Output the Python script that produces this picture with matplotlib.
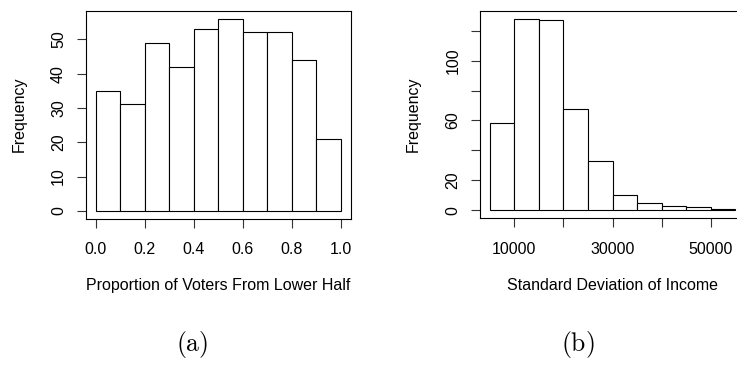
import matplotlib
matplotlib.use("Agg")
import matplotlib.pyplot as plt
import numpy as np

# panel (a): proportion of voters from lower half
prop_edges = [0.0, 0.1, 0.2, 0.3, 0.4, 0.5, 0.6, 0.7, 0.8, 0.9, 1.0]
prop_counts = [35, 31, 49, 42, 53, 56, 52, 52, 44, 21]
prop_xticks = [0.0, 0.2, 0.4, 0.6, 0.8, 1.0]
prop_xlabels = ["0.0", "0.2", "0.4", "0.6", "0.8", "1.0"]
prop_yticks = [0, 10, 20, 30, 40, 50]
prop_ylabels = ["0", "10", "20", "30", "40", "50"]

# panel (b): standard deviation of income
sd_edges = [5000, 10000, 15000, 20000, 25000, 30000, 35000, 40000, 45000, 50000, 55000]
sd_counts = [58, 128, 127, 68, 33, 10, 5, 3, 2, 1]
sd_xticks = [10000, 20000, 30000, 40000, 50000]
sd_xlabels = ["10000", "", "30000", "", "50000"]
sd_yticks = [0, 20, 40, 60, 80, 100, 120]
sd_ylabels = ["0", "20", "", "60", "", "100", ""]

plt.rcParams["font.family"] = "Liberation Sans"
plt.rcParams["mathtext.fontset"] = "cm"

W, H = 737, 366
FS = 11.5
fig = plt.figure(figsize=(W / 100, H / 100), dpi=100)


def r_hist(rect, edges, counts, xticks, xlabels, yticks, ylabels, xlabel):
    x0, y0, x1, y1 = rect
    ax = fig.add_axes([x0 / W, 1 - y1 / H, (x1 - x0) / W, (y1 - y0) / H])
    edges = np.asarray(edges, dtype=float)
    ax.bar(edges[:-1], counts, width=np.diff(edges), align="edge",
           color="white", edgecolor="black", linewidth=0.8)
    # R pads the data range by 4% on each side
    span = edges[-1] - edges[0]
    ax.set_xlim(edges[0] - 0.04 * span, edges[-1] + 0.04 * span)
    top = max(counts)
    ax.set_ylim(-0.04 * top, 1.04 * top)
    ax.set_xticks(xticks, xlabels)
    ax.set_yticks(yticks, ylabels)
    for lab in ax.get_yticklabels():
        lab.set_rotation(90)
        lab.set_va("center")
    ax.tick_params(direction="out", length=6.5, width=0.8, labelsize=FS,
                   color="#333333")
    ax.tick_params(axis="x", pad=10.6)
    ax.tick_params(axis="y", pad=7.6)
    for s in ax.spines.values():
        s.set_linewidth(0.8)
    ax.set_xlabel(xlabel, fontsize=FS)
    ax.set_ylabel("Frequency", fontsize=FS)
    ax.xaxis.set_label_coords(0.5, -(285 - y1) / (y1 - y0))
    ax.xaxis.label.set_va("center")
    ax.yaxis.set_label_coords(-0.252, 0.5)
    ax.yaxis.label.set_va("center")
    return ax


r_hist((85.7, 11, 350.7, 218.5), prop_edges, prop_counts,
       prop_xticks, prop_xlabels, prop_yticks, prop_ylabels,
       "Proportion of Voters From Lower Half")
r_hist((480, 11, 745, 218), sd_edges, sd_counts,
       sd_xticks, sd_xlabels, sd_yticks, sd_ylabels,
       "Standard Deviation of Income")

fig.text(192 / W, 1 - 345 / H, r"$\mathrm{(a)}$", fontsize=18.5,
         ha="center", va="center")
fig.text(578 / W, 1 - 345 / H, r"$\mathrm{(b)}$", fontsize=18.5,
         ha="center", va="center")

fig.savefig("out.png", dpi=100)
